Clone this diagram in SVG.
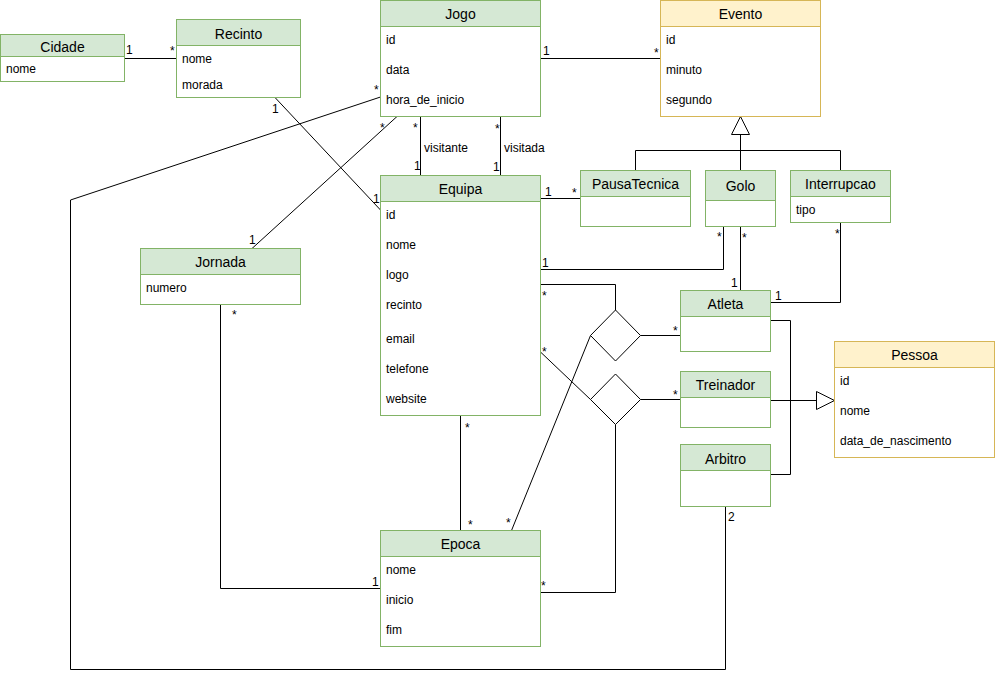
<svg xmlns="http://www.w3.org/2000/svg" width="995" height="673" viewBox="0 0 995 673">
  <style>
    text { font-family: "Liberation Sans", Helvetica, Arial, sans-serif; fill: #000; }
    .title { font-size: 14px; text-anchor: middle; }
    .attr { font-size: 12px; }
    .lbl { font-size: 12px; }
    .body { fill: #fff; stroke-width: 1; }
    .g .body, .g .head { stroke: #82b366; }
    .g .head { fill: #d5e8d4; }
    .y .body, .y .head { stroke: #d6b656; }
    .y .head { fill: #fff2cc; }
    .edge { fill: none; stroke: #000; stroke-width: 1; }
    .rel { fill: #fff; stroke: #000; stroke-width: 1; }
  </style>
  <defs>
    <marker id="inherit" viewBox="0 0 19 19" refX="18.5" refY="9.5" markerWidth="19" markerHeight="19" markerUnits="userSpaceOnUse" orient="auto">
      <path d="M0.5,0.5 L18.5,9.5 L0.5,18.5 Z" fill="#fff" stroke="#000" stroke-width="1"/>
    </marker>
  </defs>

  <rect width="995" height="673" fill="#fff"/>

  <!-- associations and generalizations -->
  <g id="connectors">
    <path class="edge" d="M124.5,58.5 H176.5"/>
    <path class="edge" d="M275,97.5 L380.5,210"/>
    <path class="edge" d="M540.5,58.5 H660.5"/>
    <path class="edge" d="M420.5,116.5 V175.5"/>
    <path class="edge" d="M500.5,116.5 V175.5"/>
    <path class="edge" d="M380.5,97 L70.5,200 V669.5 H725.5 V506.5"/>
    <path class="edge" d="M397,116.5 L252,248.5"/>
    <path class="edge" d="M540.5,198.5 H580.5"/>
    <path class="edge" d="M540.5,269.5 H723.5 V226.5"/>
    <path class="edge" d="M740.5,226.5 V290.5"/>
    <path class="edge" d="M840.5,222.5 V302.5 H770.5"/>
    <path class="edge" d="M540.5,284.5 H615.5 V310"/>
    <path class="edge" d="M640.5,335.5 H680.5"/>
    <path class="edge" d="M590.5,335.5 L511.5,530.5"/>
    <path class="edge" d="M540.5,352 L590.5,399.5"/>
    <path class="edge" d="M640.5,399.5 H680.5"/>
    <path class="edge" d="M615.5,424.5 V592.5 H540.5"/>
    <path class="edge" d="M460.5,415.5 V530.5"/>
    <path class="edge" d="M220.5,304.5 V588.5 H380.5"/>
    <!-- Evento specializations -->
    <path class="edge" d="M635.5,170.5 V150.5 H840.5 V170.5"/>
    <path class="edge" d="M740.5,170.5 V116.5" marker-end="url(#inherit)"/>
    <!-- Pessoa specializations -->
    <path class="edge" d="M770.5,320.5 H790.5 V474.5 H770.5"/>
    <path class="edge" d="M770.5,400.5 H834.5" marker-end="url(#inherit)"/>

    <!-- multiplicities and role names -->
    <text class="lbl" x="126" y="54">1</text>
    <text class="lbl" x="170" y="55">*</text>
    <text class="lbl" x="272" y="113">1</text>
    <text class="lbl" x="373" y="203">1</text>
    <text class="lbl" x="543" y="55">1</text>
    <text class="lbl" x="654" y="57">*</text>
    <text class="lbl" x="413" y="132">*</text>
    <text class="lbl" x="414" y="170">1</text>
    <text class="lbl" x="424" y="152">visitante</text>
    <text class="lbl" x="495" y="133">*</text>
    <text class="lbl" x="493" y="171">1</text>
    <text class="lbl" x="504" y="152">visitada</text>
    <text class="lbl" x="374" y="94">*</text>
    <text class="lbl" x="380" y="132">*</text>
    <text class="lbl" x="249" y="244">1</text>
    <text class="lbl" x="545" y="196">1</text>
    <text class="lbl" x="572" y="197">*</text>
    <text class="lbl" x="542" y="267">1</text>
    <text class="lbl" x="717" y="241">*</text>
    <text class="lbl" x="742" y="242">*</text>
    <text class="lbl" x="731" y="287">1</text>
    <text class="lbl" x="835" y="238">*</text>
    <text class="lbl" x="775" y="300">1</text>
    <text class="lbl" x="673" y="335">*</text>
    <text class="lbl" x="673" y="399">*</text>
    <text class="lbl" x="542" y="300">*</text>
    <text class="lbl" x="542" y="356">*</text>
    <text class="lbl" x="465" y="432">*</text>
    <text class="lbl" x="468" y="529">*</text>
    <text class="lbl" x="506" y="527">*</text>
    <text class="lbl" x="541" y="590">*</text>
    <text class="lbl" x="372" y="586">1</text>
    <text class="lbl" x="232" y="319">*</text>
    <text class="lbl" x="728" y="521">2</text>
  </g>

  <!-- classes -->
  <g id="cidade" class="g">
    <rect class="body" x="0.5" y="34.5" width="124" height="47"/>
    <rect class="head" x="0.5" y="34.5" width="124" height="22"/>
    <text class="title" x="62.5" y="52">Cidade</text>
    <text class="attr" x="6" y="73">nome</text>
  </g>

  <g id="recinto" class="g">
    <rect class="body" x="176.5" y="19.5" width="124" height="78"/>
    <rect class="head" x="176.5" y="19.5" width="124" height="26"/>
    <text class="title" x="238.5" y="38.5">Recinto</text>
    <text class="attr" x="182" y="63">nome</text>
    <text class="attr" x="182" y="89">morada</text>
  </g>

  <g id="jogo" class="g">
    <rect class="body" x="380.5" y="0.5" width="160" height="116"/>
    <rect class="head" x="380.5" y="0.5" width="160" height="26"/>
    <text class="title" x="460.5" y="19">Jogo</text>
    <text class="attr" x="386" y="44">id</text>
    <text class="attr" x="386" y="74">data</text>
    <text class="attr" x="386" y="104">hora_de_inicio</text>
  </g>

  <g id="evento" class="y">
    <rect class="body" x="660.5" y="0.5" width="160" height="116"/>
    <rect class="head" x="660.5" y="0.5" width="160" height="26"/>
    <text class="title" x="740.5" y="19">Evento</text>
    <text class="attr" x="666" y="44">id</text>
    <text class="attr" x="666" y="74">minuto</text>
    <text class="attr" x="666" y="104">segundo</text>
  </g>

  <g id="equipa" class="g">
    <rect class="body" x="380.5" y="175.5" width="160" height="240"/>
    <rect class="head" x="380.5" y="175.5" width="160" height="26"/>
    <text class="title" x="460.5" y="194">Equipa</text>
    <text class="attr" x="386" y="218.5">id</text>
    <text class="attr" x="386" y="248.5">nome</text>
    <text class="attr" x="386" y="278.5">logo</text>
    <text class="attr" x="386" y="308.5">recinto</text>
    <text class="attr" x="386" y="343">email</text>
    <text class="attr" x="386" y="373">telefone</text>
    <text class="attr" x="386" y="403">website</text>
  </g>

  <g id="pausatecnica" class="g">
    <rect class="body" x="580.5" y="170.5" width="110" height="56"/>
    <rect class="head" x="580.5" y="170.5" width="110" height="26"/>
    <text class="title" x="635.5" y="189">PausaTecnica</text>
  </g>

  <g id="golo" class="g">
    <rect class="body" x="705.5" y="170.5" width="70" height="56"/>
    <rect class="head" x="705.5" y="170.5" width="70" height="30"/>
    <text class="title" x="740.5" y="191">Golo</text>
  </g>

  <g id="interrupcao" class="g">
    <rect class="body" x="790.5" y="170.5" width="100" height="52"/>
    <rect class="head" x="790.5" y="170.5" width="100" height="26"/>
    <text class="title" x="840.5" y="189">Interrupcao</text>
    <text class="attr" x="796" y="214">tipo</text>
  </g>

  <g id="jornada" class="g">
    <rect class="body" x="140.5" y="248.5" width="160" height="56"/>
    <rect class="head" x="140.5" y="248.5" width="160" height="26"/>
    <text class="title" x="220.5" y="267">Jornada</text>
    <text class="attr" x="146" y="292">numero</text>
  </g>

  <g id="atleta" class="g">
    <rect class="body" x="680.5" y="290.5" width="90" height="61"/>
    <rect class="head" x="680.5" y="290.5" width="90" height="26"/>
    <text class="title" x="725.5" y="309">Atleta</text>
  </g>

  <g id="treinador" class="g">
    <rect class="body" x="680.5" y="371.5" width="90" height="56"/>
    <rect class="head" x="680.5" y="371.5" width="90" height="26"/>
    <text class="title" x="725.5" y="390">Treinador</text>
  </g>

  <g id="arbitro" class="g">
    <rect class="body" x="680.5" y="444.5" width="90" height="62"/>
    <rect class="head" x="680.5" y="444.5" width="90" height="26"/>
    <text class="title" x="725.5" y="463.5">Arbitro</text>
  </g>

  <g id="pessoa" class="y">
    <rect class="body" x="834.5" y="341.5" width="160" height="116"/>
    <rect class="head" x="834.5" y="341.5" width="160" height="26"/>
    <text class="title" x="914.5" y="360">Pessoa</text>
    <text class="attr" x="840" y="385">id</text>
    <text class="attr" x="840" y="415">nome</text>
    <text class="attr" x="840" y="445">data_de_nascimento</text>
  </g>

  <g id="epoca" class="g">
    <rect class="body" x="380.5" y="530.5" width="160" height="116"/>
    <rect class="head" x="380.5" y="530.5" width="160" height="26"/>
    <text class="title" x="460.5" y="549">Epoca</text>
    <text class="attr" x="386" y="574">nome</text>
    <text class="attr" x="386" y="604">inicio</text>
    <text class="attr" x="386" y="634">fim</text>
  </g>

  <!-- n-ary association diamonds -->
  <g id="assoc-atleta">
    <path class="rel" d="M615.5,310 L640.5,335.5 L615.5,361 L590.5,335.5 Z"/>
  </g>
  <g id="assoc-treinador">
    <path class="rel" d="M615.5,374 L640.5,399.5 L615.5,424.5 L590.5,399.5 Z"/>
  </g>
</svg>
